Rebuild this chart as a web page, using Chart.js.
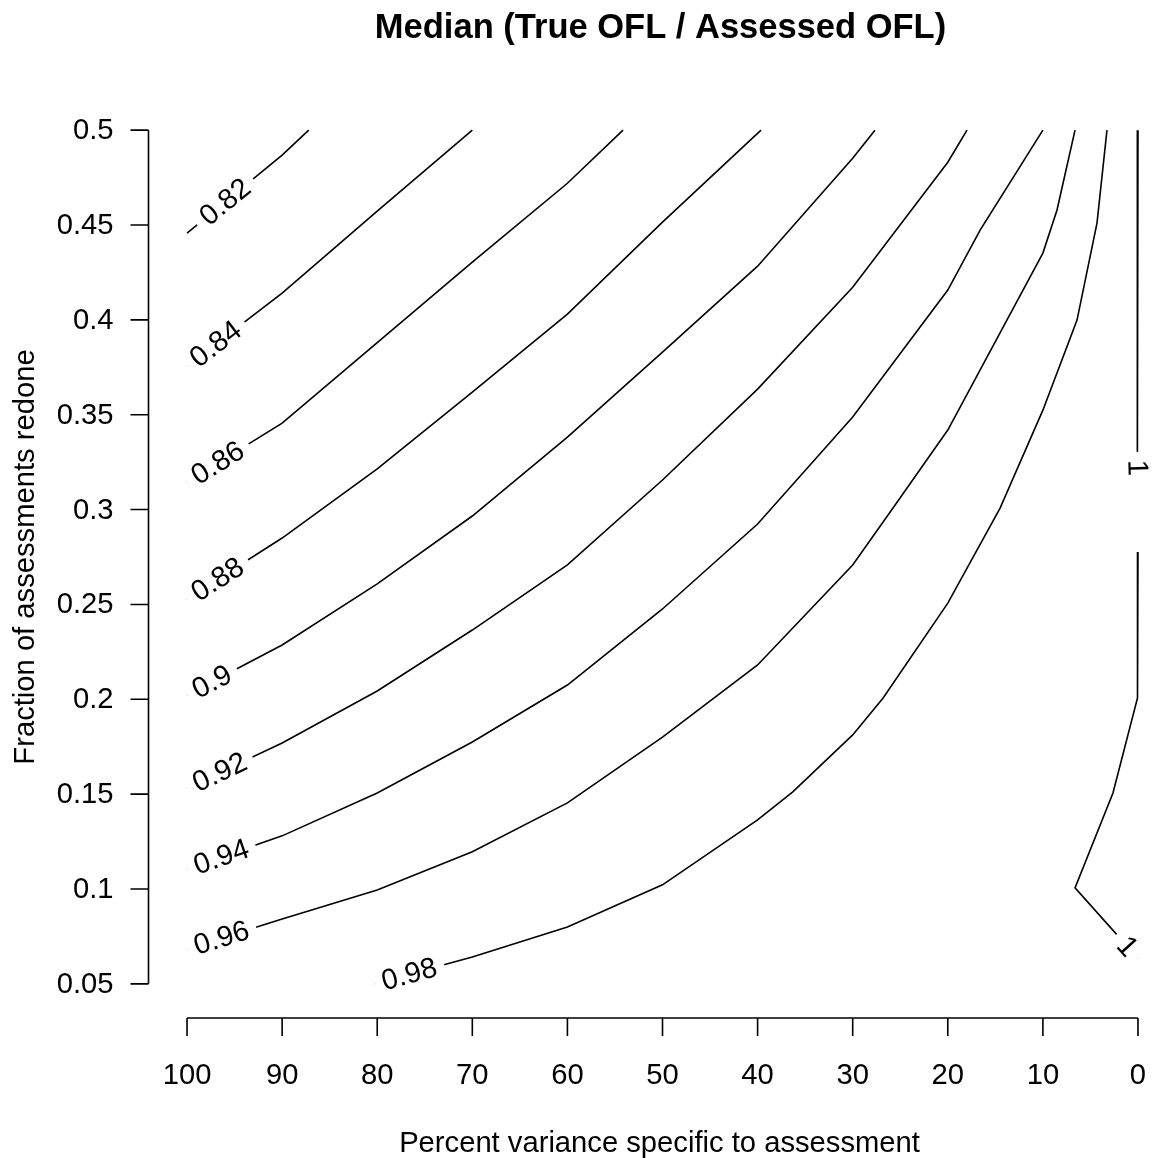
<!DOCTYPE html>
<html>
<head>
<meta charset="utf-8">
<script src="https://cdn.jsdelivr.net/npm/chart.js@4.4.1/dist/chart.umd.min.js"></script>
<style>
  html, body { margin: 0; padding: 0; background: #fff; overflow: hidden; }
  #wrap { position: relative; width: 1155px; height: 1158px; }
</style>
</head>
<body>
<div id="wrap"><canvas id="contourChart"></canvas></div>
<script>
// contour levels, one per traced piece (level 1 comes in two pieces)
const contourLevels = [0.82, 0.84, 0.86, 0.88, 0.9, 0.92, 0.94, 0.96, 0.98, 1, 1];

// x = percent variance specific to assessment, y = fraction of assessments redone
const c082x = [100, 90, 87.2];
const c082y = [0.4457, 0.4868, 0.5];
const c084x = [100, 90, 80, 70];
const c084y = [0.3756, 0.4141, 0.4573, 0.5];
const c086x = [100, 90, 80, 70, 60, 54.15];
const c086y = [0.3145, 0.3456, 0.388, 0.4304, 0.472, 0.5];
const c088x = [100, 90, 80, 70, 60, 50, 39.64];
const c088y = [0.2529, 0.285, 0.3214, 0.3619, 0.403, 0.4515, 0.5];
const c090x = [100, 90, 80, 70, 60, 50, 40, 30, 27.66];
const c090y = [0.2023, 0.2286, 0.2608, 0.2966, 0.3382, 0.383, 0.4283, 0.4852, 0.5];
const c092x = [100, 90, 80, 70, 60, 50, 40, 30, 20, 17.98];
const c092y = [0.1533, 0.177, 0.2044, 0.2365, 0.2708, 0.3156, 0.3635, 0.4172, 0.4831, 0.5];
const c094x = [100, 90, 80, 70, 60, 50, 40, 30, 20, 16.6, 10];
const c094y = [0.1106, 0.128, 0.1506, 0.1775, 0.2075, 0.2476, 0.2924, 0.3488, 0.4157, 0.4473, 0.5];
const c096x = [100, 90, 80, 70, 60, 50, 40, 30, 25.76, 20, 10, 8.52, 6.62];
const c096y = [0.0684, 0.0842, 0.0995, 0.1196, 0.1454, 0.1801, 0.2181, 0.2708, 0.3008, 0.3419, 0.4352, 0.4578, 0.5];
const c098x = [80.3, 70, 60, 50, 40, 36.3, 30, 26.8, 20, 14.5, 10, 6.41, 4.31, 3.26];
const c098y = [0.05, 0.0642, 0.08, 0.1022, 0.1364, 0.1512, 0.1812, 0.2007, 0.2507, 0.3008, 0.3524, 0.3999, 0.451, 0.5];
const c100ax = [0, 0.1, 0.1, 0];
const c100ay = [0.5, 0.3509, 0.3314, 0.3135];
const c100bx = [0, 0.1, 0, 2.63, 6.62, 2.2, 0];
const c100by = [0.2776, 0.2508, 0.2007, 0.1506, 0.1006, 0.0758, 0.0634];

const xTicks = [100, 90, 80, 70, 60, 50, 40, 30, 20, 10, 0];
const yTicks = [0.05, 0.1, 0.15, 0.2, 0.25, 0.3, 0.35, 0.4, 0.45, 0.5];
const yTickLabels = ['0.05', '0.1', '0.15', '0.2', '0.25', '0.3', '0.35', '0.4', '0.45', '0.5'];

const pieces = [
  [c082x, c082y], [c084x, c084y], [c086x, c086y], [c088x, c088y], [c090x, c090y],
  [c092x, c092y], [c094x, c094y], [c096x, c096y], [c098x, c098y],
  [c100ax, c100ay], [c100bx, c100by]
];

// where the label sits on each piece
const labelAt = ['start', 'start', 'start', 'start', 'start', 'start', 'start', 'start', 'start', 'end', 'end'];
const labelOffset = [13, 0, 0, 0, 0, 0, 0, 0, 0, 0, 0];

const FONT = '"Liberation Sans", Arial, Helvetica, sans-serif';

const datasets = pieces.map(([xs, ys], i) => ({
  label: String(contourLevels[i]),
  data: xs.map((v, k) => ({ x: v, y: ys[k] })),
  borderColor: '#000',
  borderWidth: 1.6,
  pointRadius: 0,
  tension: 0,
  fill: false
}));

// R style contour labels: cut the line and write the level along it
const contourLabels = {
  id: 'contourLabels',
  afterDatasetsDraw(chart) {
    const ctx = chart.ctx;
    ctx.save();
    ctx.font = '29px ' + FONT;
    chart.data.datasets.forEach((ds, i) => {
      const pts = chart.getDatasetMeta(i).data.map(p => ({ x: p.x, y: p.y }));
      const cum = [0];
      for (let k = 1; k < pts.length; k++) {
        cum.push(cum[k - 1] + Math.hypot(pts[k].x - pts[k - 1].x, pts[k].y - pts[k - 1].y));
      }
      const total = cum[cum.length - 1];
      const at = s => {
        s = Math.max(0, Math.min(total, s));
        let k = 1;
        while (k < pts.length - 1 && cum[k] < s) k++;
        const seg = cum[k] - cum[k - 1] || 1;
        const t = (s - cum[k - 1]) / seg;
        return { x: pts[k - 1].x + t * (pts[k].x - pts[k - 1].x), y: pts[k - 1].y + t * (pts[k].y - pts[k - 1].y), k };
      };
      const gap = ctx.measureText(ds.label).width + 16;
      let s0, s1;
      if (labelAt[i] === 'end') { s1 = total - labelOffset[i]; s0 = s1 - gap; }
      else { s0 = labelOffset[i]; s1 = s0 + gap; }
      const a = at(s0), b = at(s1);

      // erase the line under the label
      ctx.beginPath();
      ctx.moveTo(a.x, a.y);
      for (let k = a.k; k < b.k; k++) ctx.lineTo(pts[k].x, pts[k].y);
      ctx.lineTo(b.x, b.y);
      ctx.strokeStyle = '#fff';
      ctx.lineWidth = 5;
      ctx.lineCap = 'butt';
      ctx.stroke();

      let ang = Math.atan2(b.y - a.y, b.x - a.x);
      if (ang > Math.PI / 2 + 0.01) ang -= Math.PI;
      else if (ang < -Math.PI / 2 - 0.01) ang += Math.PI;
      ctx.save();
      ctx.translate((a.x + b.x) / 2, (a.y + b.y) / 2);
      ctx.rotate(ang);
      ctx.fillStyle = '#000';
      ctx.textAlign = 'center';
      ctx.textBaseline = 'middle';
      ctx.fillText(ds.label, 0, 1);
      ctx.restore();
    });
    ctx.restore();
  }
};

// axes, tick labels and titles drawn the way R's base graphics does
const rAxes = {
  id: 'rAxes',
  afterDraw(chart) {
    const { ctx, chartArea, scales: { x, y } } = chart;
    const tickLen = 18;
    ctx.save();
    ctx.strokeStyle = '#000';
    ctx.fillStyle = '#000';
    ctx.lineWidth = 1.6;
    ctx.lineCap = 'butt';

    const xb = chartArea.bottom;
    ctx.beginPath();
    ctx.moveTo(x.getPixelForValue(xTicks[0]), xb);
    ctx.lineTo(x.getPixelForValue(xTicks[xTicks.length - 1]), xb);
    xTicks.forEach(t => {
      const px = x.getPixelForValue(t);
      ctx.moveTo(px, xb);
      ctx.lineTo(px, xb + tickLen);
    });
    const yl = chartArea.left - 0.5;
    ctx.moveTo(yl, y.getPixelForValue(yTicks[0]));
    ctx.lineTo(yl, y.getPixelForValue(yTicks[yTicks.length - 1]));
    yTicks.forEach(t => {
      const py = y.getPixelForValue(t);
      ctx.moveTo(yl, py);
      ctx.lineTo(yl - tickLen, py);
    });
    ctx.stroke();

    ctx.font = '29.2px ' + FONT;
    ctx.textBaseline = 'alphabetic';
    ctx.textAlign = 'center';
    xTicks.forEach(t => ctx.fillText(String(t), x.getPixelForValue(t), xb + 66));
    ctx.textAlign = 'right';
    ctx.textBaseline = 'middle';
    yTicks.forEach((t, k) => ctx.fillText(yTickLabels[k], yl - 35, y.getPixelForValue(t) + 1));

    const cx = x.getPixelForValue(50);
    const cy = y.getPixelForValue(0.275);
    ctx.textAlign = 'center';
    ctx.textBaseline = 'alphabetic';
    ctx.fillText('Percent variance specific to assessment', cx - 3, 1152);
    ctx.save();
    ctx.translate(34, cy);
    ctx.rotate(-Math.PI / 2);
    ctx.fillText('Fraction of assessments redone', 0, 0);
    ctx.restore();

    ctx.font = 'bold 34.5px ' + FONT;
    ctx.fillText('Median (True OFL / Assessed OFL)', cx - 2, 38);
    ctx.restore();
  }
};

new Chart(document.getElementById('contourChart'), {
  type: 'line',
  data: { datasets },
  options: {
    responsive: true,
    maintainAspectRatio: false,
    animation: false,
    layout: { padding: { left: 149, right: 0, top: 96, bottom: 140 } },
    plugins: { legend: { display: false }, tooltip: { enabled: false }, title: { display: false } },
    scales: {
      x: { type: 'linear', reverse: true, min: -1.79, max: 104, display: false },
      y: { type: 'linear', min: 0.032, max: 0.518, display: false }
    }
  },
  plugins: [contourLabels, rAxes]
});
</script>
</body>
</html>
